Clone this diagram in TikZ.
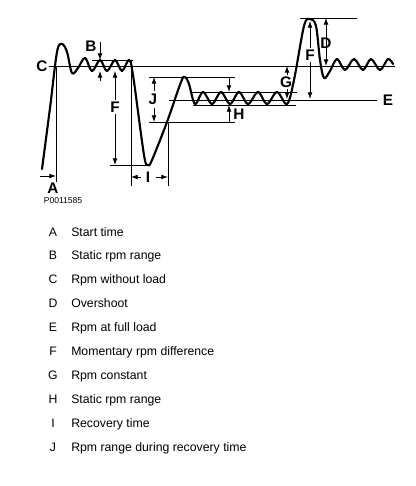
\documentclass[tikz,border=0pt]{standalone}
\usepackage{fontspec}
\setmainfont{Liberation Sans}
\usetikzlibrary{arrows.meta}

\tikzset{
  curve/.style={line width=1.6pt, line join=round, line cap=round},
  guide/.style={line width=0.6pt},
  dimarrow/.style={guide, -{Latex[length=5pt,width=3.6pt]}},
  dimboth/.style={guide, {Latex[length=5pt,width=3.6pt]}-{Latex[length=5pt,width=3.6pt]}},
  letter/.style={font=\bfseries\fontsize{11.5}{13}\selectfont, inner sep=0pt},
  keyletter/.style={font=\fontsize{9.2}{11}\selectfont, inner sep=0pt, anchor=base},
  keytext/.style={font=\fontsize{9.2}{11}\selectfont, inner sep=0pt, anchor=base west}
}

\begin{document}
\begin{tikzpicture}[x=0.75pt, y=-0.75pt]
\useasboundingbox (0,0) rectangle (415,486);

% reference levels
\coordinate (c0) at (48,66);   \coordinate (c1) at (395,66);
\coordinate (e0) at (169,100); \coordinate (e1) at (377,100);
\coordinate (b0) at (92,60);   \coordinate (b1) at (133,60);
\coordinate (f0) at (110,165); \coordinate (f1) at (148,165);
\coordinate (j0) at (149,77);  \coordinate (j1) at (235,77);
\coordinate (k0) at (149,122); \coordinate (k1) at (235,122);
\coordinate (h0) at (190,92);  \coordinate (h1) at (297,92);
\coordinate (g0) at (193,105); \coordinate (g1) at (296,105);
\coordinate (d0) at (300,18);  \coordinate (d1) at (357,18);
\coordinate (a0) at (56,66);   \coordinate (a1) at (56,182);
\coordinate (i0) at (131,60);  \coordinate (i1) at (131,186);
\coordinate (i2) at (168,122); \coordinate (i3) at (168,186);

\foreach \p/\q in {c0/c1, e0/e1, b0/b1, f0/f1, j0/j1, k0/k1,
                   h0/h1, g0/g1, d0/d1, a0/a1, i0/i1, i2/i3}
  \draw[guide] (\p) -- (\q);

% the rpm curve
\draw[curve] plot[smooth, tension=0.55] coordinates {
  (42,169) (50,108) (57,52) (62,44) (67,52) (72,73) (78,68)
  (85,58) (92,71) (100,60) (107,71) (115,60) (122,71) (129,60)
  (133,75) (144,155) (148,165) (152,160) (167,122) (181,82)
  (185,77) (189,84) (195,104) (203,92) (212,104) (221,92)
  (230,104) (239,92) (248,104) (258,92) (267,104) (277,92)
  (287,104) (294,80) (304,26) (310,19) (316,26) (320,60)
  (324,78) (330,71) (337,59) (345,70) (354,59) (363,70)
  (371,59) (380,70) (388,59) (393,64)};

% dimension arrows
\draw[dimarrow] (40,176) -- (a1 |- 0,176);
\draw[dimarrow] (100,42) -- (100,60);
\draw[dimarrow] (100,81) -- (100,71);
\draw[dimboth] (115,71) -- (115,165);
\draw[dimarrow] (141,177) -- (i1 |- 0,177);
\draw[dimarrow] (156,177) -- (i3 |- 0,177);
\draw[dimarrow] (154,91) -- (154,77);
\draw[dimarrow] (154,108) -- (154,122);
\draw[dimarrow] (229,77) -- (229,92);
\draw[dimarrow] (229,122) -- (229,105);
\draw[dimarrow] (287,75) -- (287,66);
\draw[dimarrow] (287,89) -- (287,99);
\draw[dimboth] (310,21) -- (310,99);
\draw[dimboth] (326,18) -- (326,66);

% letters on the diagram
\node[letter, fill=white, inner sep=1pt] (lC) at (42,66) {C};
\node[letter] (lA) at (53,188) {A};
\node[font=\fontsize{6.4}{7}\selectfont, inner sep=0pt] (code) at (63,201) {P0011585};
\node[letter] (lB) at (91,46) {B};
\node[letter, fill=white, inner sep=1pt] (lF) at (115,107) {F};
\node[letter, fill=white, inner sep=1pt] (lI) at (148,177) {I};
\node[letter] (lJ) at (153,99) {J};
\node[letter] (lH) at (239,114) {H};
\node[letter] (lG) at (286,82) {G};
\node[letter, fill=white, inner sep=1pt] (lF2) at (310,55) {F};
\node[letter] (lD) at (326,43) {D};
\node[letter] (lE) at (388,100) {E};

% key
\foreach \l/\t [count=\n from 0] in {A/Start time, B/Static rpm range,
    C/Rpm without load, D/Overshoot, E/Rpm at full load,
    F/Momentary rpm difference, G/Rpm constant, H/Static rpm range,
    I/Recovery time, J/Rpm range during recovery time}{
  \node[keyletter] (k\l) at (53,236+23.9*\n) {\l};
  \node[keytext] (t\l) at (71,236+23.9*\n) {\t};
}
\end{tikzpicture}
\end{document}
